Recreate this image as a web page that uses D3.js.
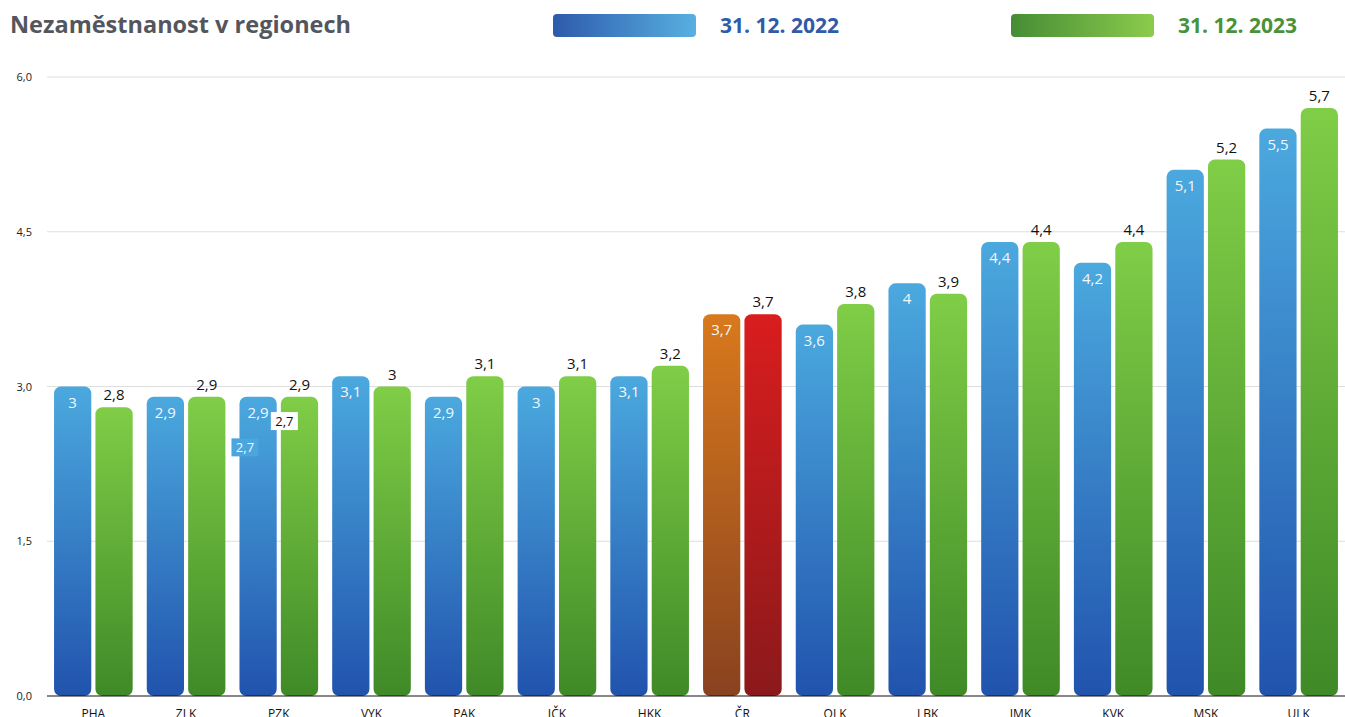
<!DOCTYPE html>
<html lang="cs">
<head>
<meta charset="utf-8">
<title>Nezaměstnanost v regionech</title>
<script src="https://d3js.org/d3.v7.min.js"></script>
<style>
  body { margin: 0; background: #fff; }
  text { font-family: "Open Sans", sans-serif; }
</style>
</head>
<body>
<svg id="chart" width="1345" height="717"></svg>
<script>
// data
var regions = ["PHA", "ZLK", "PZK", "VYK", "PAK", "IČK", "HKK", "ČR", "OLK", "LBK", "IMK", "KVK", "MSK", "ULK"];
var values2022 = [3, 2.9, 2.9, 3.1, 2.9, 3, 3.1, 3.7, 3.6, 4, 4.4, 4.2, 5.1, 5.5];
var values2023 = [2.8, 2.9, 2.9, 3, 3.1, 3.1, 3.2, 3.7, 3.8, 3.9, 4.4, 4.4, 5.2, 5.7];
var yTicks = [0, 1.5, 3, 4.5, 6];
var seriesNames = ["31. 12. 2022", "31. 12. 2023"];
// stray labels sitting on PZK in the original
var strayLabels = [{region: "PZK", series: 0, value: 2.41, text: "2,7"}, {region: "PZK", series: 1, value: 2.665, text: "2,7"}];

var svg = d3.select("#chart");
var mLeft = 47, mRight = 1345, mTop = 77, mBottom = 696;

var fmt = function(v) { return String(v).replace(".", ","); };

var x = d3.scaleBand().domain(regions).range([mLeft, mRight]).paddingInner(0).paddingOuter(0);
var x1 = d3.scaleBand().domain([0, 1]).range([0, x.bandwidth()]).paddingInner(0.1).paddingOuter(0.17);
var y = d3.scaleLinear().domain([0, 6]).range([mBottom, mTop]);

// gradients
var defs = svg.append("defs");
function vgrad(id, c1, c2) {
  var g = defs.append("linearGradient").attr("id", id).attr("x1", 0).attr("y1", 0).attr("x2", 0).attr("y2", 1);
  g.append("stop").attr("offset", "0%").attr("stop-color", c1);
  g.append("stop").attr("offset", "100%").attr("stop-color", c2);
}
function hgrad(id, c1, c2) {
  var g = defs.append("linearGradient").attr("id", id).attr("x1", 0).attr("y1", 0).attr("x2", 1).attr("y2", 0);
  g.append("stop").attr("offset", "0%").attr("stop-color", c1);
  g.append("stop").attr("offset", "100%").attr("stop-color", c2);
}
vgrad("gBlue", "#4ba9de", "#2153ad");
vgrad("gGreen", "#80cd47", "#3f8a27");
vgrad("gOrange", "#d8791d", "#89421f");
vgrad("gRed", "#d91d1e", "#8b191b");
hgrad("lBlue", "#2d5aac", "#58b0e0");
hgrad("lGreen", "#468c35", "#8bcb4c");

// title
svg.append("text").attr("x", 10).attr("y", 33)
  .attr("font-size", 23.5).attr("font-weight", 700).attr("fill", "#53575d")
  .text("Nezaměstnanost v regionech");

// legend
var legend = [
  {name: seriesNames[0], fill: "url(#lBlue)", color: "#2f5ba9", rx: 553, tx: 720},
  {name: seriesNames[1], fill: "url(#lGreen)", color: "#49923a", rx: 1011, tx: 1178}
];
legend.forEach(function(l) {
  svg.append("rect").attr("x", l.rx).attr("y", 14).attr("width", 143).attr("height", 23).attr("rx", 4).attr("fill", l.fill);
  svg.append("text").attr("x", l.tx).attr("y", 33)
    .attr("font-size", 21).attr("font-weight", 700).attr("fill", l.color)
    .text(l.name);
});

// grid + y axis
svg.selectAll(".grid").data(yTicks.filter(function(d) { return d > 0; })).enter()
  .append("line").attr("x1", mLeft).attr("x2", mRight)
  .attr("y1", function(d) { return y(d); }).attr("y2", function(d) { return y(d); })
  .attr("stroke", "#dedede").attr("stroke-width", 1);

svg.selectAll(".ytick").data(yTicks).enter()
  .append("text").attr("x", 32).attr("y", function(d) { return y(d) + 4; })
  .attr("text-anchor", "end").attr("font-size", 11).attr("fill", "#222")
  .text(function(d) { return d.toFixed(1).replace(".", ","); });

// bars
var rows = [];
regions.forEach(function(r, i) {
  rows.push({region: r, s: 0, v: values2022[i]});
  rows.push({region: r, s: 1, v: values2023[i]});
});
function fillFor(d) {
  if (d.region === "ČR") return d.s === 0 ? "url(#gOrange)" : "url(#gRed)";
  return d.s === 0 ? "url(#gBlue)" : "url(#gGreen)";
}
svg.selectAll(".bar").data(rows).enter()
  .append("rect")
  .attr("x", function(d) { return x(d.region) + x1(d.s); })
  .attr("y", function(d) { return y(d.v); })
  .attr("width", x1.bandwidth())
  .attr("height", function(d) { return mBottom - y(d.v); })
  .attr("rx", 7)
  .attr("fill", fillFor);

// value labels
svg.selectAll(".val").data(rows).enter()
  .append("text")
  .attr("x", function(d) { return x(d.region) + x1(d.s) + x1.bandwidth() / 2; })
  .attr("y", function(d) { return d.s === 0 ? y(d.v) + 21 : y(d.v) - 7; })
  .attr("text-anchor", "middle")
  .attr("font-size", 15)
  .attr("fill", function(d) { return d.s === 0 ? "#f4f8fc" : "#111"; })
  .text(function(d) { return fmt(d.v); });

// stray labels
strayLabels.forEach(function(s) {
  var bx = x(s.region) + x1(s.series) + (s.series === 0 ? -8 : -10);
  var cy = y(s.value);
  svg.append("rect").attr("x", bx).attr("y", cy - 9).attr("width", 27).attr("height", 18)
    .attr("fill", s.series === 0 ? "#4aa6dc" : "#fff");
  svg.append("text").attr("x", bx + 13.5).attr("y", cy + 5).attr("text-anchor", "middle")
    .attr("font-size", 13).attr("fill", s.series === 0 ? "#f4f8fc" : "#111").text(s.text);
});

// baseline + x labels
svg.append("line").attr("x1", mLeft).attr("x2", mRight).attr("y1", mBottom).attr("y2", mBottom)
  .attr("stroke", "#111").attr("stroke-width", 1.2);
svg.selectAll(".xl").data(regions).enter()
  .append("text").attr("x", function(d) { return x(d) + x.bandwidth() / 2; })
  .attr("y", 718).attr("text-anchor", "middle").attr("font-size", 12).attr("fill", "#111")
  .text(function(d) { return d; });
</script>
</body>
</html>
